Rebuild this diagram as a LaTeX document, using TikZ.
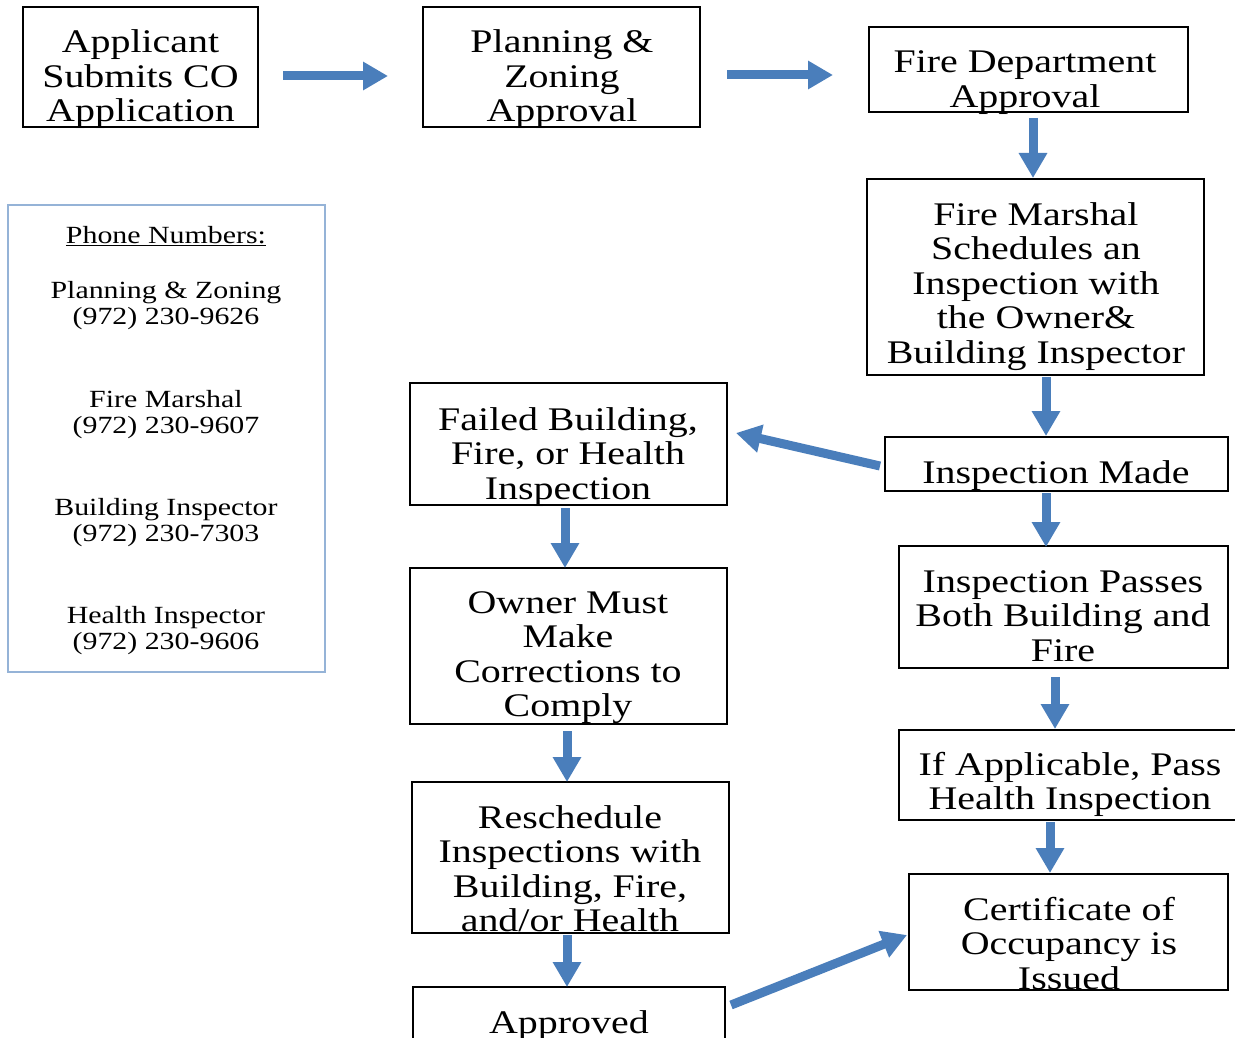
\documentclass[tikz,border=0pt]{standalone}
\usepackage{fontspec}
\setmainfont{Liberation Serif}
\newfontfamily\bodyfont[FakeStretch=1.21]{Liberation Serif}
\usetikzlibrary{arrows.meta}
\definecolor{arrowblue}{HTML}{4A7EBB}
\definecolor{phoneblue}{HTML}{95B3D7}
\tikzset{
  stepbox/.style={draw=black, line width=1.4pt, inner sep=0pt, fill=none},
  steptext/.style={font=\bodyfont\fontsize{33}{34.5}\selectfont, align=center, anchor=base, inner sep=0pt},
  phonetext/.style={font=\bodyfont\fontsize{24.7}{26}\selectfont, align=center, anchor=base, inner sep=0pt},
  flow/.style={draw=arrowblue, line width=9pt, line cap=butt, -{Triangle[width=27pt,length=25pt]}}
}
\begin{document}
\begin{tikzpicture}[x=1pt,y=-1pt]
\useasboundingbox (0,0) rectangle (1235,1038);
\clip (0,0) rectangle (1235,1038);
\fill[white] (0,0) rectangle (1235,1038);

% boxes
\node[stepbox, minimum width=235pt, minimum height=120pt] (b1) at (140.5,67) {};
\node[stepbox, minimum width=277pt, minimum height=120pt] (b2) at (561.5,67) {};
\node[stepbox, minimum width=319pt, minimum height=85pt] (b3) at (1028.5,69.5) {};
\node[stepbox, minimum width=337pt, minimum height=196pt] (b4) at (1035.5,277) {};
\node[stepbox, minimum width=343pt, minimum height=54pt] (b5) at (1056.5,464) {};
\node[stepbox, minimum width=317pt, minimum height=122pt] (b6) at (568.5,444) {};
\node[stepbox, minimum width=329pt, minimum height=122pt] (b7) at (1063.5,607) {};
\node[stepbox, minimum width=317pt, minimum height=156pt] (b8) at (568.5,646) {};
\node[stepbox, minimum width=346pt, minimum height=90pt] (b9) at (1072,775) {};
\node[stepbox, minimum width=317pt, minimum height=151pt] (b10) at (570.5,857.5) {};
\node[stepbox, minimum width=319pt, minimum height=116pt] (b11) at (1068.5,932) {};
\node[stepbox, minimum width=312pt, minimum height=63pt] (b12) at (569,1018.5) {};
\node[draw=phoneblue, line width=1.6pt, inner sep=0pt, minimum width=317pt, minimum height=467pt] (phone) at (166.5,438.5) {};

% texts (anchor = baseline of last line)
\node[steptext] (t1) at (140.5,122) {Applicant\\Submits CO\\Application};
\node[steptext] (t2) at (562,122) {Planning \&\\Zoning\\Approval};
\node[steptext] (t3) at (1025,107.5) {Fire Department\\Approval};
\node[steptext] (t4) at (1036,363) {Fire Marshal\\Schedules an\\Inspection with\\the Owner\&\\Building Inspector};
\node[steptext] (t5) at (1056,483) {Inspection Made};
\node[steptext] (t6) at (568,499) {Failed Building,\\Fire, or Health\\Inspection};
\node[steptext] (t7) at (1063,661) {Inspection Passes\\Both Building and\\Fire};
\node[steptext] (t8) at (568,716.5) {Owner Must\\Make\\Corrections to\\Comply};
\node[steptext] (t9) at (1070,809.5) {If Applicable, Pass\\Health Inspection};
\node[steptext] (t10) at (570,931.5) {Reschedule\\Inspections with\\Building, Fire,\\and/or Health};
\node[steptext] (t11) at (1069,989) {Certificate of\\Occupancy is\\Issued};
\node[steptext] (t12) at (569,1033) {Approved};

\node[phonetext] (p0) at (166,243) {\underline{Phone Numbers:}};
\node[phonetext] (p1) at (166,324) {Planning \& Zoning\\(972) 230-9626};
\node[phonetext] (p2) at (166,433) {Fire Marshal\\(972) 230-9607};
\node[phonetext] (p3) at (166,541) {Building Inspector\\(972) 230-7303};
\node[phonetext] (p4) at (166,649) {Health Inspector\\(972) 230-9606};

% arrow end points
\coordinate (a1s) at (283,76);   \coordinate (a1e) at (388,76);
\coordinate (a2s) at (727,75);   \coordinate (a2e) at (833,75);
\coordinate (a3s) at (1033,118); \coordinate (a3e) at (1033,178);
\coordinate (a4s) at (1046,377); \coordinate (a4e) at (1046,436);
\coordinate (a5s) at (880,466);  \coordinate (a5e) at (736,433);
\coordinate (a6s) at (1046,493); \coordinate (a6e) at (1046,547);
\coordinate (a7s) at (565,508);  \coordinate (a7e) at (565,568);
\coordinate (a8s) at (1055,677); \coordinate (a8e) at (1055,729);
\coordinate (a9s) at (567,731);  \coordinate (a9e) at (567,782);
\coordinate (a10s) at (1050,822); \coordinate (a10e) at (1050,873);
\coordinate (a11s) at (567,935); \coordinate (a11e) at (567,987);
\coordinate (a12s) at (731,1005); \coordinate (a12e) at (907,935);

\foreach \i in {1,...,12} {
  \draw[flow] (a\i s) -- (a\i e);
}
\end{tikzpicture}
\end{document}
